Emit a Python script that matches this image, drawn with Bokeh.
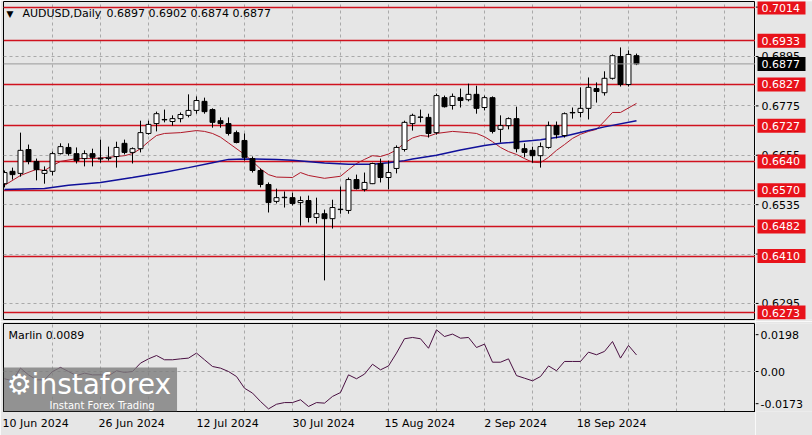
from bokeh.plotting import figure
from bokeh.models import Range1d, FixedTicker, Label, ColumnDataSource, Span
from bokeh.layouts import column, row
from bokeh.embed import file_html
from bokeh.resources import INLINE
from bokeh.core.properties import value

# ---------------- data ----------------
bars = list(range(80))
opens = [0.6586, 0.6616, 0.6611, 0.6669, 0.6640, 0.6611, 0.6616, 0.6659, 0.6674, 0.6659,
         0.6647, 0.6659, 0.6648, 0.6647, 0.6652, 0.6684, 0.6662, 0.6671, 0.6708, 0.6732,
         0.6742, 0.6737, 0.6744, 0.6752, 0.6764, 0.6786, 0.6766, 0.6739, 0.6732, 0.6710,
         0.6691, 0.6647, 0.6618, 0.6584, 0.6543, 0.6552, 0.6552, 0.6540, 0.6545, 0.6504,
         0.6513, 0.6501, 0.6523, 0.6521, 0.6596, 0.6572, 0.6586, 0.6635, 0.6601, 0.6623,
         0.6669, 0.6732, 0.6747, 0.6747, 0.6710, 0.6795, 0.6776, 0.6795, 0.6790, 0.6803,
         0.6771, 0.6795, 0.6718, 0.6727, 0.6744, 0.6671, 0.6667, 0.6654, 0.6674, 0.6727,
         0.6703, 0.6759, 0.6759, 0.6769, 0.6817, 0.6807, 0.6842, 0.6895, 0.6827, 0.6897]
highs = [0.6618, 0.6625, 0.6710, 0.6681, 0.6647, 0.6628, 0.6664, 0.6684, 0.6684, 0.6674,
         0.6667, 0.6671, 0.6693, 0.6676, 0.6688, 0.6693, 0.6674, 0.6739, 0.6739, 0.6761,
         0.6766, 0.6752, 0.6759, 0.6803, 0.6798, 0.6795, 0.6769, 0.6747, 0.6747, 0.6715,
         0.6708, 0.6652, 0.6623, 0.6589, 0.6574, 0.6567, 0.6564, 0.6555, 0.6557, 0.6552,
         0.6523, 0.6547, 0.6579, 0.6601, 0.6608, 0.6613, 0.6637, 0.6647, 0.6642, 0.6679,
         0.6739, 0.6756, 0.6766, 0.6756, 0.6805, 0.6800, 0.6805, 0.6817, 0.6829, 0.6824,
         0.6800, 0.6798, 0.6752, 0.6747, 0.6773, 0.6684, 0.6676, 0.6686, 0.6737, 0.6737,
         0.6759, 0.6771, 0.6820, 0.6844, 0.6832, 0.6859, 0.6900, 0.6917, 0.6910, 0.6902]
lows = [0.6577, 0.6596, 0.6603, 0.6633, 0.6594, 0.6586, 0.6606, 0.6657, 0.6654, 0.6635,
        0.6628, 0.6628, 0.6637, 0.6642, 0.6625, 0.6657, 0.6635, 0.6662, 0.6705, 0.6713,
        0.6735, 0.6727, 0.6735, 0.6747, 0.6756, 0.6756, 0.6722, 0.6722, 0.6703, 0.6684,
        0.6642, 0.6613, 0.6577, 0.6516, 0.6538, 0.6528, 0.6533, 0.6484, 0.6492, 0.6489,
        0.6351, 0.6477, 0.6513, 0.6513, 0.6572, 0.6567, 0.6585, 0.6589, 0.6572, 0.6611,
        0.6664, 0.6715, 0.6735, 0.6698, 0.6705, 0.6771, 0.6766, 0.6771, 0.6786, 0.6756,
        0.6764, 0.6708, 0.6686, 0.6718, 0.6662, 0.6650, 0.6637, 0.6625, 0.6671, 0.6696,
        0.6698, 0.6744, 0.6747, 0.6742, 0.6783, 0.6800, 0.6839, 0.6822, 0.6822, 0.6874]
closes = [0.6613, 0.6608, 0.6667, 0.6640, 0.6620, 0.6618, 0.6659, 0.6676, 0.6659, 0.6642,
          0.6659, 0.6650, 0.6646, 0.6650, 0.6674, 0.6662, 0.6671, 0.6710, 0.6730, 0.6756,
          0.6741, 0.6744, 0.6754, 0.6764, 0.6788, 0.6761, 0.6735, 0.6732, 0.6708, 0.6686,
          0.6650, 0.6618, 0.6584, 0.6540, 0.6552, 0.6553, 0.6538, 0.6545, 0.6504, 0.6513,
          0.6501, 0.6528, 0.6524, 0.6596, 0.6574, 0.6589, 0.6635, 0.6601, 0.6613, 0.6674,
          0.6735, 0.6752, 0.6748, 0.6708, 0.6800, 0.6773, 0.6798, 0.6788, 0.6803, 0.6769,
          0.6795, 0.6713, 0.6727, 0.6744, 0.6671, 0.6662, 0.6654, 0.6676, 0.6727, 0.6705,
          0.6756, 0.6758, 0.6769, 0.6820, 0.6810, 0.6842, 0.6897, 0.6827, 0.6900, 0.6877]

# moving averages (bar, value)
ma_red_bars = [0, 2, 4, 5, 6, 7, 9, 11, 13, 15, 16, 17, 18, 19, 20, 22, 24, 25, 26, 27, 28, 30, 31,
               32, 33, 34, 36, 37, 38, 40, 42, 43, 44, 45, 46, 47, 48, 49, 50, 51, 52, 53, 54, 56,
               58, 59, 60, 61, 62, 63, 64, 65, 66, 67, 68, 69, 70, 71, 72, 73, 74, 75, 76, 77, 78, 79]
ma_red_vals = [0.6582, 0.6606, 0.6621, 0.6618, 0.6630, 0.6640, 0.6647, 0.6647, 0.6650, 0.6654,
               0.6659, 0.6671, 0.6688, 0.6703, 0.6708, 0.6710, 0.6715, 0.6713, 0.6708, 0.6699,
               0.6685, 0.6657, 0.6640, 0.6622, 0.6608, 0.6602, 0.6601, 0.6613, 0.6606, 0.6599,
               0.6604, 0.6620, 0.6635, 0.6645, 0.6654, 0.6652, 0.6658, 0.6668, 0.6685, 0.6697,
               0.6703, 0.6701, 0.6708, 0.6713, 0.6710, 0.6708, 0.6700, 0.6688, 0.6674, 0.6664,
               0.6657, 0.6647, 0.6638, 0.6637, 0.6650, 0.6667, 0.6681, 0.6696, 0.6706, 0.6713,
               0.6718, 0.6738, 0.6759, 0.6759, 0.6770, 0.6781]
ma_blue_bars = [0, 5, 8, 12, 16, 20, 23, 26, 28, 30, 34, 36, 40, 43, 46, 48, 50, 51, 54, 57,
                60, 62, 66, 67, 70, 73, 75, 79]
ma_blue_vals = [0.6572, 0.6574, 0.6582, 0.6589, 0.6601, 0.6614, 0.6625, 0.6637, 0.6645, 0.6646,
                0.6645, 0.6643, 0.6636, 0.6633, 0.6633, 0.6637, 0.6642, 0.6646, 0.6655, 0.6668,
                0.6679, 0.6684, 0.6691, 0.6693, 0.6701, 0.6715, 0.6724, 0.6739]

marlin = [-0.0039, -0.0050, 0.0018, -0.0018, -0.0045, -0.0045, 0.0000, 0.0022, 0.0000, -0.0022,
          -0.0009, -0.0018, -0.0018, -0.0023, 0.0004, -0.0005, 0.0000, 0.0045, 0.0068, 0.0086,
          0.0063, 0.0063, 0.0068, 0.0072, 0.0099, 0.0063, 0.0027, 0.0018, 0.0000, -0.0027,
          -0.0090, -0.0116, -0.0161, -0.0201, -0.0176, -0.0167, -0.0167, -0.0152, -0.0188, -0.0167,
          -0.0170, -0.0134, -0.0113, -0.0018, -0.0039, -0.0014, 0.0039, 0.0009, 0.0030, 0.0099,
          0.0176, 0.0183, 0.0176, 0.0125, 0.0224, 0.0188, 0.0201, 0.0179, 0.0183, 0.0129,
          0.0147, 0.0050, 0.0050, 0.0068, -0.0022, -0.0036, -0.0050, -0.0027, 0.0030, 0.0004,
          0.0054, 0.0054, 0.0054, 0.0104, 0.0090, 0.0108, 0.0161, 0.0072, 0.0140, 0.0089]

levels = [0.7014, 0.6933, 0.6827, 0.6727, 0.6640, 0.6570, 0.6482, 0.6410, 0.6273]
price_ticks = [0.6295, 0.6415, 0.6535, 0.6655, 0.6775, 0.6895, 0.7015]
osc_ticks = [0.0198, 0.0, -0.0173]
osc_tick_labels = ["0.0198", "0.00", "-0.0173"]
date_ticks = [0, 12, 24, 36, 48, 60, 72]
date_labels = ["10 Jun 2024", "26 Jun 2024", "12 Jul 2024", "30 Jul 2024",
               "15 Aug 2024", "2 Sep 2024", "18 Sep 2024"]
grid_bars = [6, 12, 18, 24, 30, 36, 42, 48, 54, 60, 66, 72, 78, 84, 90]
symbol_title = "AUDUSD,Daily"
header_ohlc = "0.6897 0.6902 0.6874 0.6877"
marlin_title = "Marlin 0.0089"

# ---------------- style ----------------
BG = "#e6e6e6"
GRIDC = "#a9a9a9"
LEVEL_C = "#d0121e"
BOX_C = "#e8121a"
FONT = "DejaVu Sans"
FS = "11px"
LABEL_SHIFT = 3.9   # date labels start at their bar (left aligned look)

xr = Range1d(-0.125, 93.875)

src = ColumnDataSource(dict(
    bar=bars, high=highs, low=lows,
    top=[max(o, c) for o, c in zip(opens, closes)],
    bottom=[min(o, c) for o, c in zip(opens, closes)],
    fill=["white" if c > o else "black" for o, c in zip(opens, closes)],
))


def side_panel(height, yr, top, bottom):
    s = figure(width=57, height=height, x_range=Range1d(0, 57), y_range=yr,
               output_backend="svg", toolbar_location=None,
               x_axis_location=None, y_axis_location=None,
               min_border_left=0, min_border_right=0, min_border_top=top, min_border_bottom=bottom,
               background_fill_color=BG, border_fill_color=BG, outline_line_color=None)
    s.xgrid.visible = False
    s.ygrid.visible = False
    return s


def txt(x, y, text, size=FS, color="black"):
    return Label(x=x, x_units="screen", y=y, y_units="screen", text=text,
                 text_font=FONT, text_font_size=size, text_color=color,
                 text_baseline="middle", text_align="left")


# ---------------- price panel ----------------
p = figure(width=755, height=321, x_range=xr, y_range=Range1d(0.62560, 0.70286),
           output_backend="svg", toolbar_location=None,
           x_axis_location=None, y_axis_location=None,
           min_border_left=3, min_border_right=0, min_border_top=1, min_border_bottom=2,
           background_fill_color=BG, border_fill_color=BG, outline_line_color="black")
p.ygrid.ticker = FixedTicker(ticks=price_ticks)
p.ygrid.grid_line_color = GRIDC
p.ygrid.grid_line_dash = "3 3"
p.xgrid.ticker = FixedTicker(ticks=grid_bars)
p.xgrid.grid_line_color = GRIDC
p.xgrid.grid_line_dash = "3 3"

p.add_layout(Span(location=closes[-1], dimension="width", line_color="#9a9a9a", line_width=1))
p.hspan(y=levels, line_color=LEVEL_C, line_width=1.5)
p.line(ma_red_bars, ma_red_vals, line_color="#b01828", line_width=1)
p.line(ma_blue_bars, ma_blue_vals, line_color="#10109a", line_width=1.5)
p.segment(x0="bar", x1="bar", y0="low", y1="high", source=src, line_color="black", line_width=1)
p.vbar(x="bar", width=0.62, top="top", bottom="bottom", source=src,
       fill_color="fill", line_color="black", line_width=1)
p.add_layout(txt(3, 306, "\u25bc", size="9px"))
p.add_layout(txt(19, 306, symbol_title))
p.add_layout(txt(103, 306, header_ohlc))

# price scale
ps = side_panel(321, p.y_range, 1, 2)
ps.segment(x0=0, x1=3, y0=price_ticks, y1=price_ticks, line_color="black", line_width=1)
ps.text(x=6, y=price_ticks, text=[f"{t:.4f}" for t in price_ticks],
        text_font=value(FONT), text_font_size=value(FS), text_color="black",
        text_baseline="middle", text_align="left")
ps.rect(x=26, y=levels, width=48, height=14, height_units="screen",
        fill_color=BOX_C, line_color=None)
ps.text(x=6, y=levels, text=[f"{v:.4f}" for v in levels],
        text_font=value(FONT), text_font_size=value(FS), text_color="white",
        text_baseline="middle", text_align="left")
ps.rect(x=26, y=[closes[-1]], width=48, height=14, height_units="screen",
        fill_color="black", line_color=None)
ps.text(x=6, y=[closes[-1]], text=[f"{closes[-1]:.4f}"],
        text_font=value(FONT), text_font_size=value(FS), text_color="white",
        text_baseline="middle", text_align="left")

# ---------------- oscillator panel ----------------
q = figure(width=755, height=114, x_range=xr, y_range=Range1d(-0.0215, 0.0258),
           output_backend="svg", toolbar_location=None,
           x_axis_location="below", y_axis_location=None,
           min_border_left=3, min_border_right=0, min_border_top=2, min_border_bottom=24,
           background_fill_color=BG, border_fill_color=BG, outline_line_color="black")
q.xaxis.ticker = FixedTicker(ticks=[t + LABEL_SHIFT for t in date_ticks])
q.xaxis.major_label_overrides = {t + LABEL_SHIFT: s for t, s in zip(date_ticks, date_labels)}
q.xaxis.major_tick_out = 0
q.xaxis.major_tick_in = 0
q.xaxis.minor_tick_out = 0
q.xaxis.minor_tick_in = 0
q.xaxis.axis_line_color = "black"
q.xaxis.major_label_standoff = 5
q.xaxis.major_label_text_font = FONT
q.xaxis.major_label_text_font_size = FS
q.xaxis.major_label_text_color = "black"

q.ygrid.ticker = FixedTicker(ticks=[0.0])
q.ygrid.grid_line_color = GRIDC
q.ygrid.grid_line_dash = "3 3"
q.xgrid.ticker = FixedTicker(ticks=grid_bars)
q.xgrid.grid_line_color = GRIDC
q.xgrid.grid_line_dash = "3 3"

q.line(bars, marlin, line_color="#4a1042", line_width=1)
q.add_layout(txt(5, 76, marlin_title))

# watermark (kept inside the indicator frame)
q.add_layout(Label(x=0, x_units="screen", y=0, y_units="screen", text="\u2699instaforex",
                   text_font=FONT, text_font_size="28px", text_color="white",
                   text_baseline="bottom", text_align="left",
                   background_fill_color="#7d7d7d", background_fill_alpha=0.8,
                   padding=dict(top=0, right=6, bottom=11, left=3)))
q.add_layout(Label(x=46, x_units="screen", y=1, y_units="screen", text="Instant Forex Trading",
                   text_font=FONT, text_font_size="10px", text_color="white",
                   text_baseline="bottom", text_align="left"))

# oscillator scale
qs = side_panel(114, q.y_range, 2, 24)
qs.segment(x0=0, x1=3, y0=osc_ticks, y1=osc_ticks, line_color="black", line_width=1)
qs.text(x=5, y=osc_ticks, text=osc_tick_labels,
        text_font=value(FONT), text_font_size=value(FS), text_color="black",
        text_baseline="middle", text_align="left")

layout = column(row(p, ps, spacing=0), row(q, qs, spacing=0), spacing=0)
open("out.html", "w").write(file_html(layout, INLINE))
